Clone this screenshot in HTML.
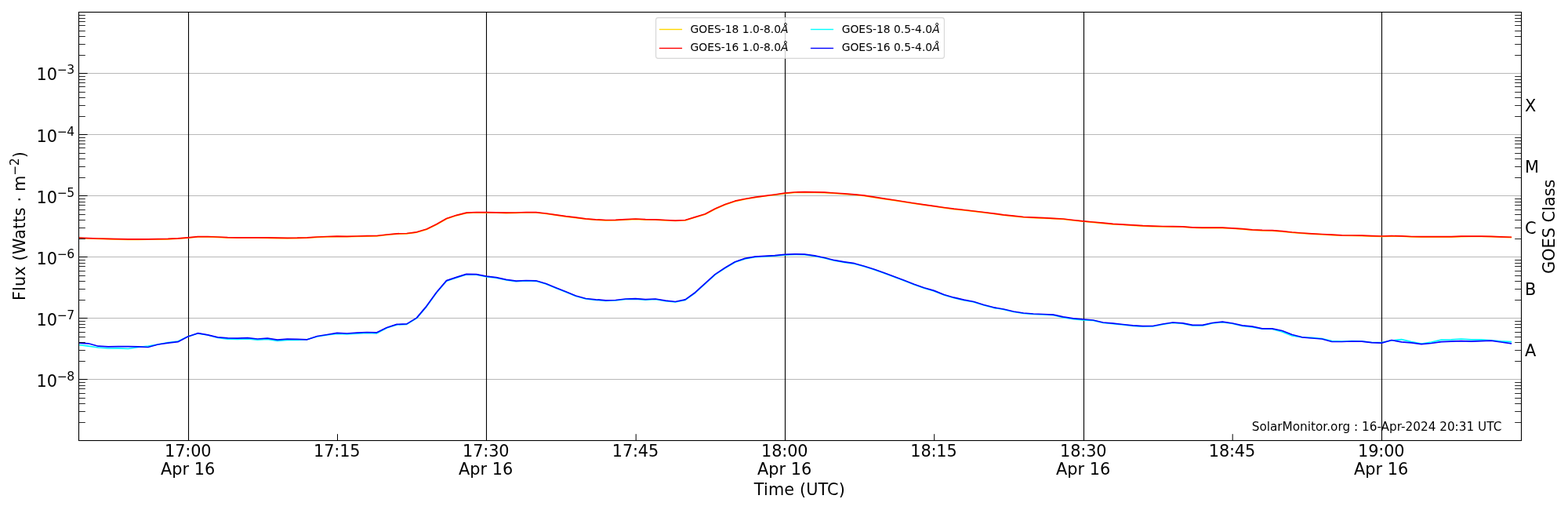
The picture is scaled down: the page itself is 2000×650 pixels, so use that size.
<!DOCTYPE html>
<html><head><meta charset="utf-8"><title>GOES XRS flux</title>
<style>html,body{margin:0;padding:0;background:#fff;}svg{display:block;}text{font-family:'DejaVu Sans', 'Liberation Sans', sans-serif;fill:#000;}</style></head><body>
<svg width="2000" height="650" viewBox="0 0 2000 650">
<rect x="0" y="0" width="2000" height="650" fill="#fff"/>
<defs><clipPath id="ax"><rect x="100.5" y="15.5" width="1840.0" height="546.0"/></clipPath></defs>
<path d="M100.5 93.5H1940.5M100.5 171.5H1940.5M100.5 249.5H1940.5M100.5 327.5H1940.5M100.5 405.5H1940.5M100.5 483.5H1940.5" stroke="#b8b8b8" stroke-width="1" fill="none"/>
<path d="M240.5 15.5V561.5M620.5 15.5V561.5M1001.5 15.5V561.5M1382.5 15.5V561.5M1762.5 15.5V561.5" stroke="#000" stroke-width="1.1" fill="none"/>
<g clip-path="url(#ax)" fill="none" stroke-width="1.7" stroke-linejoin="round" stroke-linecap="square">
<path d="M100.03 303.40 L112.72 304.00 L125.41 304.40 L138.10 304.70 L150.79 305.10 L163.47 305.30 L176.16 305.30 L188.85 305.20 L201.54 305.10 L214.23 304.80 L226.92 304.20 L239.61 303.20 L252.30 302.00 L264.99 301.90 L277.68 302.40 L290.37 303.00 L303.05 303.20 L315.74 303.20 L328.43 303.20 L341.12 303.30 L353.81 303.60 L366.50 303.70 L379.19 303.60 L391.88 303.20 L404.57 302.40 L417.25 301.90 L429.94 301.60 L442.63 301.70 L455.32 301.40 L468.01 301.10 L480.70 300.90 L493.39 299.40 L506.08 298.20 L518.77 297.90 L531.46 296.20 L544.14 292.40 L556.83 286.20 L569.52 278.90 L582.21 274.70 L594.90 271.60 L607.59 270.90 L620.28 271.10 L632.97 271.20 L645.66 271.60 L658.35 271.40 L671.03 270.90 L683.72 271.00 L696.41 272.40 L709.10 274.20 L721.79 276.10 L734.48 277.60 L747.17 279.20 L759.86 280.20 L772.55 280.90 L785.24 280.70 L797.92 280.10 L810.61 279.40 L823.30 280.10 L835.99 280.20 L848.68 280.90 L861.37 281.50 L874.06 280.90 L886.75 277.00 L899.44 273.20 L912.13 266.40 L924.81 260.90 L937.50 256.60 L950.19 253.90 L962.88 251.70 L975.57 250.00 L988.26 248.40 L1000.95 246.60 L1013.64 245.40 L1026.33 245.10 L1039.02 245.30 L1051.70 245.60 L1064.39 246.40 L1077.08 247.30 L1089.77 248.20 L1102.46 249.60 L1115.15 251.60 L1127.84 253.60 L1140.53 255.40 L1153.22 257.40 L1165.91 259.40 L1178.60 261.20 L1191.28 263.00 L1203.97 264.90 L1216.66 266.60 L1229.35 267.90 L1242.04 269.40 L1254.73 270.90 L1267.42 272.50 L1280.11 274.20 L1292.80 275.60 L1305.48 276.90 L1318.17 277.60 L1330.86 278.10 L1343.55 278.70 L1356.24 279.40 L1368.93 280.90 L1381.62 282.20 L1394.31 283.40 L1407.00 284.60 L1419.69 285.80 L1432.38 286.50 L1445.06 287.30 L1457.75 288.10 L1470.44 288.60 L1483.13 288.90 L1495.82 289.10 L1508.51 289.20 L1521.20 290.20 L1533.89 290.60 L1546.58 290.60 L1559.26 290.60 L1571.95 291.20 L1584.64 292.10 L1597.33 293.20 L1610.02 293.80 L1622.71 294.10 L1635.40 295.10 L1648.09 296.40 L1660.78 297.40 L1673.47 298.20 L1686.15 298.90 L1698.84 299.60 L1711.53 300.20 L1724.22 300.40 L1736.91 300.60 L1749.60 301.10 L1762.29 301.40 L1774.98 301.10 L1787.67 301.20 L1800.36 301.90 L1813.05 302.10 L1825.73 302.10 L1838.42 302.10 L1851.11 302.10 L1863.80 301.60 L1876.49 301.50 L1889.18 301.50 L1901.87 301.70 L1914.56 302.20 L1927.25 302.60" stroke="#ffd700"/>
<path d="M100.03 303.00 L112.72 303.60 L125.41 304.00 L138.10 304.30 L150.79 304.70 L163.47 304.90 L176.16 304.90 L188.85 304.80 L201.54 304.70 L214.23 304.40 L226.92 303.80 L239.61 302.80 L252.30 301.60 L264.99 301.50 L277.68 302.00 L290.37 302.60 L303.05 302.80 L315.74 302.80 L328.43 302.80 L341.12 302.90 L353.81 303.20 L366.50 303.30 L379.19 303.20 L391.88 302.80 L404.57 302.00 L417.25 301.50 L429.94 301.20 L442.63 301.30 L455.32 301.00 L468.01 300.70 L480.70 300.50 L493.39 299.00 L506.08 297.80 L518.77 297.50 L531.46 295.80 L544.14 292.00 L556.83 285.80 L569.52 278.50 L582.21 274.30 L594.90 271.20 L607.59 270.50 L620.28 270.70 L632.97 270.80 L645.66 271.20 L658.35 271.00 L671.03 270.50 L683.72 270.60 L696.41 272.00 L709.10 273.80 L721.79 275.70 L734.48 277.20 L747.17 278.80 L759.86 279.80 L772.55 280.50 L785.24 280.30 L797.92 279.70 L810.61 279.00 L823.30 279.70 L835.99 279.80 L848.68 280.50 L861.37 281.10 L874.06 280.50 L886.75 276.60 L899.44 272.80 L912.13 266.00 L924.81 260.50 L937.50 256.20 L950.19 253.50 L962.88 251.30 L975.57 249.60 L988.26 248.00 L1000.95 246.20 L1013.64 245.00 L1026.33 244.70 L1039.02 244.90 L1051.70 245.20 L1064.39 246.00 L1077.08 246.90 L1089.77 247.80 L1102.46 249.20 L1115.15 251.20 L1127.84 253.20 L1140.53 255.00 L1153.22 257.00 L1165.91 259.00 L1178.60 260.80 L1191.28 262.60 L1203.97 264.50 L1216.66 266.20 L1229.35 267.50 L1242.04 269.00 L1254.73 270.50 L1267.42 272.10 L1280.11 273.80 L1292.80 275.20 L1305.48 276.50 L1318.17 277.20 L1330.86 277.70 L1343.55 278.30 L1356.24 279.00 L1368.93 280.50 L1381.62 281.80 L1394.31 283.00 L1407.00 284.20 L1419.69 285.40 L1432.38 286.10 L1445.06 286.90 L1457.75 287.70 L1470.44 288.20 L1483.13 288.50 L1495.82 288.70 L1508.51 288.80 L1521.20 289.80 L1533.89 290.20 L1546.58 290.20 L1559.26 290.20 L1571.95 290.80 L1584.64 291.70 L1597.33 292.80 L1610.02 293.40 L1622.71 293.70 L1635.40 294.70 L1648.09 296.00 L1660.78 297.00 L1673.47 297.80 L1686.15 298.50 L1698.84 299.20 L1711.53 299.80 L1724.22 300.00 L1736.91 300.20 L1749.60 300.70 L1762.29 301.00 L1774.98 300.70 L1787.67 300.80 L1800.36 301.50 L1813.05 301.70 L1825.73 301.70 L1838.42 301.70 L1851.11 301.70 L1863.80 301.20 L1876.49 301.10 L1889.18 301.10 L1901.87 301.30 L1914.56 301.80 L1927.25 302.20" stroke="#ff0000"/>
<path d="M100.03 439.50 L112.72 441.20 L125.41 443.00 L138.10 444.00 L150.79 443.80 L163.47 444.50 L176.16 442.50 L188.85 441.00 L201.54 439.00 L214.23 436.50 L226.92 435.00 L239.61 429.00 L252.30 425.00 L264.99 427.00 L277.68 430.50 L290.37 432.10 L303.05 432.40 L315.74 431.90 L328.43 433.20 L341.12 432.40 L353.81 434.40 L366.50 433.40 L379.19 433.50 L391.88 432.50 L404.57 429.00 L417.25 427.00 L429.94 425.30 L442.63 426.00 L455.32 425.20 L468.01 424.50 L480.70 424.80 L493.39 418.00 L506.08 413.90 L518.77 413.40 L531.46 405.60 L544.14 390.60 L556.83 373.00 L569.52 358.10 L582.21 353.90 L594.90 349.90 L607.59 350.20 L620.28 352.70 L632.97 354.10 L645.66 356.80 L658.35 358.70 L671.03 358.00 L683.72 358.30 L696.41 362.00 L709.10 367.30 L721.79 372.30 L734.48 377.50 L747.17 381.00 L759.86 382.30 L772.55 383.30 L785.24 383.00 L797.92 381.50 L810.61 381.10 L823.30 382.10 L835.99 381.50 L848.68 383.60 L861.37 385.00 L874.06 382.40 L886.75 373.20 L899.44 361.70 L912.13 350.10 L924.81 341.80 L937.50 334.30 L950.19 329.90 L962.88 327.60 L975.57 326.80 L988.26 326.10 L1000.95 324.90 L1013.64 324.30 L1026.33 324.70 L1039.02 326.30 L1051.70 329.00 L1064.39 332.20 L1077.08 334.30 L1089.77 336.20 L1102.46 339.70 L1115.15 343.70 L1127.84 348.30 L1140.53 353.00 L1153.22 357.70 L1165.91 362.70 L1178.60 367.20 L1191.28 370.90 L1203.97 376.00 L1216.66 379.70 L1229.35 382.70 L1242.04 385.00 L1254.73 389.00 L1267.42 392.30 L1280.11 394.50 L1292.80 397.50 L1305.48 399.50 L1318.17 400.50 L1330.86 401.00 L1343.55 401.70 L1356.24 404.60 L1368.93 406.60 L1381.62 407.80 L1394.31 408.50 L1407.00 411.50 L1419.69 412.70 L1432.38 414.00 L1445.06 415.30 L1457.75 416.20 L1470.44 416.00 L1483.13 413.50 L1495.82 411.50 L1508.51 412.30 L1521.20 414.80 L1533.89 414.80 L1546.58 412.00 L1559.26 410.70 L1571.95 412.50 L1584.64 415.50 L1597.33 417.00 L1610.02 419.20 L1622.71 419.50 L1635.40 423.00 L1648.09 428.00 L1660.78 429.80 L1673.47 430.30 L1686.15 431.60 L1698.84 434.60 L1711.53 435.00 L1724.22 434.60 L1736.91 434.80 L1749.60 436.50 L1762.29 436.50 L1774.98 434.00 L1787.67 432.70 L1800.36 435.60 L1813.05 438.00 L1825.73 436.10 L1838.42 433.20 L1851.11 432.90 L1863.80 432.00 L1876.49 432.90 L1889.18 432.90 L1901.87 433.90 L1914.56 434.90 L1927.25 435.60" stroke="#00ffff"/>
<path d="M100.03 437.20 L112.72 437.80 L125.41 441.20 L138.10 441.80 L150.79 441.60 L163.47 441.70 L176.16 441.80 L188.85 442.50 L201.54 439.00 L214.23 437.20 L226.92 435.70 L239.61 429.00 L252.30 424.70 L264.99 426.80 L277.68 429.80 L290.37 430.90 L303.05 431.20 L315.74 430.70 L328.43 432.00 L341.12 431.20 L353.81 433.20 L366.50 432.20 L379.19 432.30 L391.88 432.80 L404.57 428.50 L417.25 426.50 L429.94 424.30 L442.63 425.00 L455.32 424.20 L468.01 423.50 L480.70 423.80 L493.39 417.50 L506.08 413.40 L518.77 412.90 L531.46 405.10 L544.14 390.10 L556.83 372.50 L569.52 357.60 L582.21 353.40 L594.90 349.40 L607.59 349.70 L620.28 352.20 L632.97 353.60 L645.66 356.30 L658.35 358.20 L671.03 357.50 L683.72 357.80 L696.41 361.50 L709.10 366.80 L721.79 371.80 L734.48 377.00 L747.17 380.50 L759.86 381.80 L772.55 382.80 L785.24 382.50 L797.92 381.00 L810.61 380.60 L823.30 381.60 L835.99 381.00 L848.68 383.10 L861.37 384.50 L874.06 381.90 L886.75 372.70 L899.44 361.20 L912.13 349.60 L924.81 341.30 L937.50 333.80 L950.19 329.40 L962.88 327.10 L975.57 326.30 L988.26 325.60 L1000.95 324.40 L1013.64 323.80 L1026.33 324.20 L1039.02 325.80 L1051.70 328.50 L1064.39 331.70 L1077.08 333.80 L1089.77 335.70 L1102.46 339.20 L1115.15 343.20 L1127.84 347.80 L1140.53 352.50 L1153.22 357.20 L1165.91 362.20 L1178.60 366.70 L1191.28 370.40 L1203.97 375.50 L1216.66 379.20 L1229.35 382.20 L1242.04 384.50 L1254.73 388.50 L1267.42 391.80 L1280.11 394.00 L1292.80 397.00 L1305.48 399.00 L1318.17 400.00 L1330.86 400.50 L1343.55 401.20 L1356.24 403.80 L1368.93 405.80 L1381.62 407.00 L1394.31 408.00 L1407.00 411.00 L1419.69 412.20 L1432.38 413.50 L1445.06 414.80 L1457.75 415.70 L1470.44 415.50 L1483.13 413.00 L1495.82 411.00 L1508.51 411.80 L1521.20 414.30 L1533.89 414.30 L1546.58 411.50 L1559.26 410.20 L1571.95 412.00 L1584.64 414.80 L1597.33 416.20 L1610.02 418.80 L1622.71 418.80 L1635.40 421.50 L1648.09 426.50 L1660.78 429.80 L1673.47 431.00 L1686.15 432.00 L1698.84 435.50 L1711.53 435.50 L1724.22 435.00 L1736.91 435.20 L1749.60 436.70 L1762.29 437.10 L1774.98 433.50 L1787.67 435.90 L1800.36 436.80 L1813.05 438.70 L1825.73 437.50 L1838.42 435.60 L1851.11 435.10 L1863.80 434.60 L1876.49 435.10 L1889.18 434.60 L1901.87 434.20 L1914.56 436.00 L1927.25 437.80" stroke="#0000ff"/>
</g>
<path d="M100.5 93.5h11.1M100.5 171.5h11.1M100.5 249.5h11.1M100.5 327.5h11.1M100.5 405.5h11.1M100.5 483.5h11.1" stroke="#000" stroke-width="1.1" fill="none"/>
<path d="M100.5 538.5h8.3M1940.5 538.5h-8.3M100.5 524.5h8.3M1940.5 524.5h-8.3M100.5 514.5h8.3M1940.5 514.5h-8.3M100.5 507.5h8.3M1940.5 507.5h-8.3M100.5 501.5h8.3M1940.5 501.5h-8.3M100.5 495.5h8.3M1940.5 495.5h-8.3M100.5 491.5h8.3M1940.5 491.5h-8.3M100.5 487.5h8.3M1940.5 487.5h-8.3M100.5 460.5h8.3M1940.5 460.5h-8.3M100.5 446.5h8.3M1940.5 446.5h-8.3M100.5 436.5h8.3M1940.5 436.5h-8.3M100.5 429.5h8.3M1940.5 429.5h-8.3M100.5 423.5h8.3M1940.5 423.5h-8.3M100.5 417.5h8.3M1940.5 417.5h-8.3M100.5 413.5h8.3M1940.5 413.5h-8.3M100.5 409.5h8.3M1940.5 409.5h-8.3M100.5 382.5h8.3M1940.5 382.5h-8.3M100.5 368.5h8.3M1940.5 368.5h-8.3M100.5 358.5h8.3M1940.5 358.5h-8.3M100.5 351.5h8.3M1940.5 351.5h-8.3M100.5 345.5h8.3M1940.5 345.5h-8.3M100.5 339.5h8.3M1940.5 339.5h-8.3M100.5 335.5h8.3M1940.5 335.5h-8.3M100.5 331.5h8.3M1940.5 331.5h-8.3M100.5 304.5h8.3M1940.5 304.5h-8.3M100.5 290.5h8.3M1940.5 290.5h-8.3M100.5 280.5h8.3M1940.5 280.5h-8.3M100.5 273.5h8.3M1940.5 273.5h-8.3M100.5 267.5h8.3M1940.5 267.5h-8.3M100.5 261.5h8.3M1940.5 261.5h-8.3M100.5 257.5h8.3M1940.5 257.5h-8.3M100.5 253.5h8.3M1940.5 253.5h-8.3M100.5 226.5h8.3M1940.5 226.5h-8.3M100.5 212.5h8.3M1940.5 212.5h-8.3M100.5 202.5h8.3M1940.5 202.5h-8.3M100.5 195.5h8.3M1940.5 195.5h-8.3M100.5 188.5h8.3M1940.5 188.5h-8.3M100.5 183.5h8.3M1940.5 183.5h-8.3M100.5 179.5h8.3M1940.5 179.5h-8.3M100.5 175.5h8.3M1940.5 175.5h-8.3M100.5 148.5h8.3M1940.5 148.5h-8.3M100.5 134.5h8.3M1940.5 134.5h-8.3M100.5 124.5h8.3M1940.5 124.5h-8.3M100.5 117.5h8.3M1940.5 117.5h-8.3M100.5 110.5h8.3M1940.5 110.5h-8.3M100.5 105.5h8.3M1940.5 105.5h-8.3M100.5 101.5h8.3M1940.5 101.5h-8.3M100.5 97.5h8.3M1940.5 97.5h-8.3M100.5 70.5h8.3M1940.5 70.5h-8.3M100.5 56.5h8.3M1940.5 56.5h-8.3M100.5 46.5h8.3M1940.5 46.5h-8.3M100.5 39.5h8.3M1940.5 39.5h-8.3M100.5 32.5h8.3M1940.5 32.5h-8.3M100.5 27.5h8.3M1940.5 27.5h-8.3M100.5 23.5h8.3M1940.5 23.5h-8.3M100.5 19.5h8.3M1940.5 19.5h-8.3" stroke="#000" stroke-width="0.85" fill="none"/>
<path d="M430.5 561.5v-8.3M811.2 561.5v-8.3M1191.7 561.5v-8.3M1572.2 561.5v-8.3" stroke="#000" stroke-width="1.0" fill="none"/>
<rect x="100.5" y="15.5" width="1840.0" height="546.0" fill="none" stroke="#000" stroke-width="1.1"/>
<text x="1596.7" y="548.9" font-size="15.28">SolarMonitor.org : 16-Apr-2024 20:31 UTC</text>
<rect x="836.6" y="22.6" width="367.8" height="51.8" rx="2.8" ry="2.8" fill="#fff" fill-opacity="0.8" stroke="#cccccc" stroke-opacity="0.8" stroke-width="1.1"/>
<path d="M841.6 37.5h27.8" stroke="#ffd700" stroke-width="1.4" stroke-linecap="square" fill="none"/>
<text x="880.5" y="42.0" font-size="13.89">GOES-18 1.0-8.0<tspan font-style="italic">Å</tspan></text>
<path d="M841.6 61.5h27.8" stroke="#ff0000" stroke-width="1.4" stroke-linecap="square" fill="none"/>
<text x="880.5" y="65.0" font-size="13.89">GOES-16 1.0-8.0<tspan font-style="italic">Å</tspan></text>
<path d="M1034.6 37.5h27.8" stroke="#00ffff" stroke-width="1.4" stroke-linecap="square" fill="none"/>
<text x="1073.7" y="42.0" font-size="13.89">GOES-18 0.5-4.0<tspan font-style="italic">Å</tspan></text>
<path d="M1034.6 61.5h27.8" stroke="#0000ff" stroke-width="1.4" stroke-linecap="square" fill="none"/>
<text x="1073.7" y="65.0" font-size="13.89">GOES-16 0.5-4.0<tspan font-style="italic">Å</tspan></text>
<text x="46.6" y="101.9" font-size="20.83">10<tspan font-size="15.5" dy="-8.05">−</tspan><tspan font-size="15.5" dx="-0.9">3</tspan></text>
<text x="46.6" y="181.0" font-size="20.83">10<tspan font-size="15.5" dy="-8.05">−</tspan><tspan font-size="15.5" dx="-0.9">4</tspan></text>
<text x="46.6" y="259.0" font-size="20.83">10<tspan font-size="15.5" dy="-8.05">−</tspan><tspan font-size="15.5" dx="-0.9">5</tspan></text>
<text x="46.6" y="337.0" font-size="20.83">10<tspan font-size="15.5" dy="-8.05">−</tspan><tspan font-size="15.5" dx="-0.9">6</tspan></text>
<text x="46.6" y="415.0" font-size="20.83">10<tspan font-size="15.5" dy="-8.05">−</tspan><tspan font-size="15.5" dx="-0.9">7</tspan></text>
<text x="46.6" y="493.0" font-size="20.83">10<tspan font-size="15.5" dy="-8.05">−</tspan><tspan font-size="15.5" dx="-0.9">8</tspan></text>
<text x="239.75" y="582.0" font-size="20.83" letter-spacing="-0.15" text-anchor="middle">17:00</text>
<text x="239.60" y="604.85" font-size="20.83" text-anchor="middle">Apr 16</text>
<text x="619.75" y="582.0" font-size="20.83" letter-spacing="-0.15" text-anchor="middle">17:30</text>
<text x="619.60" y="604.85" font-size="20.83" text-anchor="middle">Apr 16</text>
<text x="1000.75" y="582.0" font-size="20.83" letter-spacing="-0.15" text-anchor="middle">18:00</text>
<text x="1000.60" y="604.85" font-size="20.83" text-anchor="middle">Apr 16</text>
<text x="1381.75" y="582.0" font-size="20.83" letter-spacing="-0.15" text-anchor="middle">18:30</text>
<text x="1381.60" y="604.85" font-size="20.83" text-anchor="middle">Apr 16</text>
<text x="1761.75" y="582.0" font-size="20.83" letter-spacing="-0.15" text-anchor="middle">19:00</text>
<text x="1761.60" y="604.85" font-size="20.83" text-anchor="middle">Apr 16</text>
<text x="429.75" y="582.0" font-size="20.83" letter-spacing="-0.15" text-anchor="middle">17:15</text>
<text x="810.45" y="582.0" font-size="20.83" letter-spacing="-0.15" text-anchor="middle">17:45</text>
<text x="1190.95" y="582.0" font-size="20.83" letter-spacing="-0.15" text-anchor="middle">18:15</text>
<text x="1571.45" y="582.0" font-size="20.83" letter-spacing="-0.15" text-anchor="middle">18:45</text>
<text x="1019.9" y="630.9" font-size="20.83" letter-spacing="0.1" text-anchor="middle">Time (UTC)</text>
<text transform="translate(31.8 288) rotate(-90)" font-size="20.83" letter-spacing="0.15" text-anchor="middle">Flux (Watts · m<tspan font-size="15.5" dy="-8.05">−</tspan><tspan font-size="15.5" dx="-0.9">2</tspan><tspan dy="8.05">)</tspan></text>
<text transform="translate(1982.8 288.75) rotate(-90)" font-size="20.83" text-anchor="middle">GOES Class</text>
<text x="1945.0" y="141.7" font-size="20.83">X</text>
<text x="1945.0" y="219.8" font-size="20.83">M</text>
<text x="1945.0" y="297.7" font-size="20.83">C</text>
<text x="1945.0" y="375.8" font-size="20.83">B</text>
<text x="1945.0" y="453.7" font-size="20.83">A</text>
</svg></body></html>
